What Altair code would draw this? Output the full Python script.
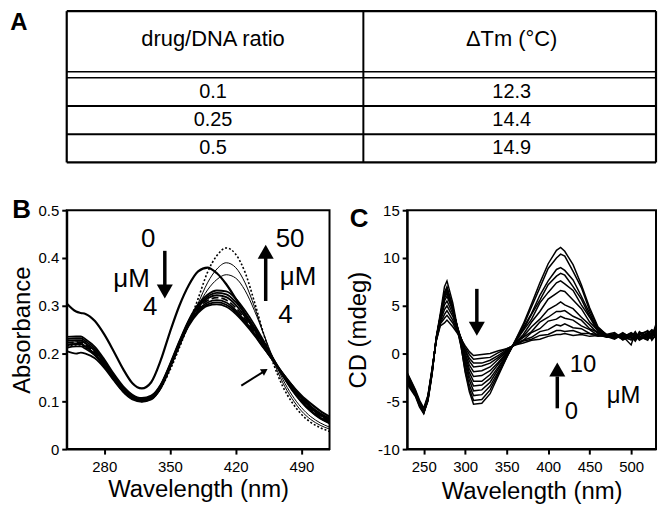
import altair as alt
import pandas as pd

FONT = "Liberation Sans"

# ---------------- Panel A: table ----------------
table_headers = ["drug/DNA ratio", "ΔTm (°C)"]
ratios = ["0.1", "0.25", "0.5"]
delta_tm = ["12.3", "14.4", "14.9"]

# ---------------- Panel B: absorbance spectra ----------------
wl_b = [240, 250, 255, 260, 270, 280, 290, 300, 310, 320, 330, 340, 350, 360, 370,
        380, 390, 400, 410, 420, 430, 440, 450, 460, 470, 480, 490, 500, 510, 520]
abs_free = [0.305, 0.288, 0.285, 0.283, 0.268, 0.24, 0.205, 0.168, 0.138, 0.127, 0.14, 0.185, 0.245, 0.30, 0.343,
            0.372, 0.38, 0.368, 0.345, 0.315, 0.283, 0.252, 0.22, 0.188, 0.158, 0.133, 0.112, 0.095, 0.08, 0.068]
abs_bundle = [
    [0.235, 0.236, 0.236, 0.23, 0.214, 0.188, 0.158, 0.132, 0.114, 0.107, 0.112, 0.135, 0.178, 0.226, 0.27,
     0.303, 0.323, 0.332, 0.33, 0.315, 0.29, 0.26, 0.226, 0.19, 0.155, 0.125, 0.1, 0.08, 0.065, 0.055],
    [0.23, 0.232, 0.232, 0.226, 0.21, 0.185, 0.155, 0.129, 0.112, 0.105, 0.11, 0.133, 0.176, 0.224, 0.268,
     0.3, 0.319, 0.327, 0.324, 0.308, 0.283, 0.254, 0.222, 0.188, 0.154, 0.124, 0.099, 0.079, 0.064, 0.054],
    [0.226, 0.228, 0.228, 0.222, 0.206, 0.181, 0.152, 0.127, 0.11, 0.104, 0.109, 0.132, 0.175, 0.223, 0.266,
     0.297, 0.315, 0.322, 0.318, 0.302, 0.277, 0.249, 0.218, 0.186, 0.155, 0.126, 0.101, 0.081, 0.066, 0.056],
    [0.217, 0.22, 0.22, 0.214, 0.199, 0.175, 0.148, 0.123, 0.107, 0.101, 0.106, 0.129, 0.172, 0.22, 0.262,
     0.291, 0.307, 0.312, 0.307, 0.291, 0.268, 0.242, 0.213, 0.185, 0.157, 0.13, 0.106, 0.086, 0.071, 0.061],
    [0.212, 0.215, 0.215, 0.21, 0.196, 0.173, 0.146, 0.122, 0.106, 0.1, 0.105, 0.128, 0.171, 0.219, 0.26,
     0.288, 0.303, 0.307, 0.302, 0.287, 0.265, 0.24, 0.212, 0.185, 0.158, 0.132, 0.108, 0.088, 0.073, 0.063],
    [0.205, 0.2, 0.202, 0.2, 0.19, 0.17, 0.144, 0.12, 0.104, 0.099, 0.104, 0.127, 0.17, 0.218, 0.258,
     0.285, 0.3, 0.303, 0.298, 0.283, 0.262, 0.238, 0.211, 0.185, 0.159, 0.134, 0.11, 0.09, 0.075, 0.065],
]
abs_dashed = [0.222, 0.224, 0.224, 0.218, 0.202, 0.178, 0.15, 0.125, 0.108, 0.102, 0.107, 0.13, 0.173, 0.221, 0.264,
              0.294, 0.311, 0.317, 0.312, 0.296, 0.272, 0.245, 0.215, 0.185, 0.156, 0.128, 0.103, 0.083, 0.068, 0.058]
abs_thin = [
    [0.222, 0.225, 0.226, 0.22, 0.204, 0.178, 0.15, 0.124, 0.108, 0.103, 0.108, 0.13, 0.17, 0.216, 0.26,
     0.3, 0.333, 0.355, 0.365, 0.358, 0.332, 0.29, 0.24, 0.19, 0.147, 0.113, 0.087, 0.068, 0.055, 0.046],
    [0.218, 0.222, 0.222, 0.216, 0.2, 0.176, 0.148, 0.122, 0.106, 0.102, 0.107, 0.128, 0.168, 0.214, 0.26,
     0.305, 0.348, 0.377, 0.39, 0.38, 0.348, 0.298, 0.24, 0.185, 0.14, 0.106, 0.08, 0.062, 0.05, 0.042],
]
abs_dotted = [0.215, 0.218, 0.218, 0.212, 0.197, 0.173, 0.146, 0.121, 0.105, 0.101, 0.106, 0.127, 0.165, 0.212, 0.262,
              0.315, 0.37, 0.405, 0.421, 0.408, 0.37, 0.308, 0.24, 0.18, 0.132, 0.098, 0.073, 0.056, 0.045, 0.037]

# ---------------- Panel C: CD spectra ----------------
wl_c = [230, 240, 245, 250, 255, 260, 265, 270, 275, 278, 285, 290, 295, 300, 305, 310, 320, 330, 340, 350,
        360, 370, 380, 390, 400, 410, 415, 420, 430, 440, 450, 460, 470, 480, 490, 500, 505, 510, 520, 525, 530]
cd_curves = [
    [-2.0, -3.8, -4.9, -5.7, -4.4, -1.6, 1.3, 2.9, 3.2, 3.5, 2.8, 2.2, 1.5, 0.8, 0.2, -0.2, -0.1, 0.0, 0.3, 0.5,
     0.9, 1.1, 1.4, 1.5, 1.8, 2.0, 2.0, 2.1, 1.9, 2.0, 1.8, 1.9, 1.8, 1.6, 1.9, 1.4, 1.8, 1.5, 1.7, 2.1, 1.6],
    [-2.2, -4.0, -5.1, -5.9, -4.5, -1.7, 1.3, 3.1, 3.7, 4.0, 3.2, 2.3, 1.6, 0.6, -0.1, -0.6, -0.5, -0.4, 0.1, 0.5,
     0.9, 1.3, 1.5, 1.9, 2.0, 2.4, 2.4, 2.3, 2.4, 2.1, 2.1, 1.8, 1.9, 1.9, 1.5, 1.8, 1.3, 2.0, 1.6, 1.9, 2.4],
    [-2.4, -4.1, -5.0, -5.8, -4.6, -1.8, 1.4, 3.2, 4.1, 4.5, 3.5, 2.5, 1.6, 0.4, -0.5, -1.0, -1.0, -0.7, -0.2, 0.4,
     0.9, 1.4, 1.7, 2.3, 2.5, 3.0, 2.9, 3.1, 2.7, 2.6, 2.1, 2.0, 1.7, 1.7, 1.8, 2.1, 1.6, 1.7, 2.2, 1.5, 1.9],
    [-2.1, -3.9, -5.2, -6.0, -4.5, -1.7, 1.4, 3.4, 4.6, 5.0, 3.9, 2.7, 1.6, 0.3, -0.8, -1.4, -1.3, -1.0, -0.4, 0.3,
     1.0, 1.4, 2.2, 2.6, 3.4, 3.6, 3.9, 3.7, 3.5, 2.9, 2.5, 1.9, 1.9, 2.0, 1.6, 1.5, 2.0, 1.8, 1.4, 2.3, 1.7],
    [-2.6, -4.2, -5.3, -6.1, -4.7, -1.9, 1.4, 3.5, 5.1, 5.5, 4.2, 2.8, 1.6, 0.0, -1.2, -1.9, -1.8, -1.4, -0.6, 0.2,
     1.0, 1.7, 2.3, 3.3, 3.8, 4.4, 4.4, 4.5, 3.9, 3.5, 2.6, 2.2, 1.8, 1.5, 2.0, 1.7, 1.4, 2.2, 1.9, 1.6, 2.6],
    [-2.3, -4.0, -5.1, -5.9, -4.6, -1.8, 1.5, 3.7, 5.5, 6.0, 4.5, 3.0, 1.5, -0.2, -1.6, -2.4, -2.3, -1.8, -0.9, 0.1,
     1.1, 1.8, 2.8, 3.6, 4.6, 5.1, 5.4, 5.1, 4.7, 3.8, 3.0, 2.1, 1.9, 1.8, 1.7, 2.2, 1.9, 1.4, 2.0, 2.4, 1.8],
    [-2.8, -4.3, -5.4, -6.2, -4.8, -2.0, 1.5, 3.8, 5.8, 6.3, 4.6, 3.0, 1.4, -0.5, -2.0, -2.9, -2.9, -2.2, -1.1, 0.0,
     1.1, 2.0, 3.3, 4.4, 5.7, 6.3, 6.6, 6.5, 5.6, 4.7, 3.3, 2.4, 1.9, 2.1, 1.4, 1.9, 2.1, 1.7, 1.5, 1.8, 2.9],
    [-2.5, -4.1, -5.2, -6.0, -4.7, -1.9, 1.5, 3.8, 6.0, 6.5, 4.7, 2.9, 1.2, -0.8, -2.4, -3.4, -3.3, -2.6, -1.4, -0.1,
     1.2, 2.4, 3.6, 5.3, 6.4, 7.4, 7.6, 7.3, 6.6, 5.1, 3.8, 2.3, 1.9, 1.7, 2.2, 1.6, 1.7, 2.1, 2.3, 1.4, 2.0],
    [-3.0, -4.4, -5.5, -6.2, -4.8, -2.0, 1.6, 3.9, 6.2, 6.7, 4.8, 2.9, 1.1, -1.1, -2.8, -3.9, -3.8, -3.0, -1.6, -0.2,
     1.2, 2.5, 4.1, 5.6, 7.2, 8.1, 8.4, 8.2, 7.0, 5.7, 3.9, 2.6, 2.0, 1.9, 1.8, 0.9, 2.2, 1.6, 1.8, 2.0, 2.5],
    [-2.7, -4.2, -5.3, -6.1, -4.9, -2.1, 1.6, 3.9, 6.3, 6.8, 4.8, 2.8, 0.9, -1.5, -3.3, -4.4, -4.3, -3.4, -1.9, -0.3,
     1.2, 2.7, 4.2, 6.1, 7.6, 8.8, 9.0, 8.7, 7.7, 6.0, 4.2, 2.5, 1.9, 1.6, 2.1, 1.8, 1.5, 2.3, 1.6, 2.2, 1.9],
    [-3.2, -4.5, -5.6, -6.3, -4.9, -2.1, 1.6, 4.0, 6.4, 7.0, 4.9, 2.7, 0.7, -1.8, -3.7, -4.9, -4.8, -3.8, -2.1, -0.4,
     1.3, 2.9, 4.9, 6.9, 8.9, 10.0, 10.4, 10.2, 8.6, 6.9, 4.5, 2.7, 2.0, 2.2, 1.6, 2.0, 1.8, 1.9, 2.4, 1.7, 3.1],
    [-2.9, -4.3, -5.4, -6.2, -5.0, -2.2, 1.7, 4.2, 7.0, 7.6, 5.3, 3.0, 0.8, -2.0, -4.0, -5.3, -5.2, -4.2, -2.3, -0.4,
     1.3, 3.1, 5.2, 7.4, 9.4, 10.8, 11.1, 10.7, 9.3, 7.2, 4.8, 2.8, 2.0, 1.8, 1.9, 1.7, 2.3, 1.5, 2.1, 2.5, 2.2],
]

# ---------------- build long tables ----------------
def long_df(wls, curves, prefix):
    rows = []
    for i, c in enumerate(curves):
        assert len(c) == len(wls), (prefix, i, len(c))
        for w, v in zip(wls, c):
            rows.append({"wl": w, "val": v, "curve": f"{prefix}{i}"})
    return pd.DataFrame(rows)

df_free = long_df(wl_b, [abs_free], "free")
df_bundle = long_df(wl_b, abs_bundle, "b")
df_dashed = long_df(wl_b, [abs_dashed], "dash")
df_thin = long_df(wl_b, abs_thin, "t")
df_dotted = long_df(wl_b, [abs_dotted], "dot")
df_cd = long_df(wl_c, cd_curves, "c")

# ---------------- Table chart ----------------
TW, TH = 592, 152
sx = alt.Scale(domain=[0, TW], nice=False, zero=False)
sy = alt.Scale(domain=[0, TH], nice=False, zero=False, reverse=True)
head_h = 61
row_h = (TH - (head_h + 6)) / 3
col_div = 298
hlines = pd.DataFrame({"x0": [0] * 6, "x1": [TW] * 6,
                       "y": [0, head_h, head_h + 6, head_h + 6 + row_h, head_h + 6 + 2 * row_h, TH],
                       "w": [2.2, 1.5, 1.5, 2, 2, 2.2]})
vlines = pd.DataFrame({"x": [0, col_div, TW], "y0": [0, 0, 0], "y1": [TH, TH, TH], "w": [2.2, 2, 2.2]})
col_centers = [147, 447]
header_df = pd.DataFrame({"x": col_centers, "y": [28, 28], "t": table_headers})
cells = []
for k, (r, d) in enumerate(zip(ratios, delta_tm)):
    yc = head_h + 6 + row_h * (k + 0.5)
    cells.append({"x": col_centers[0], "y": yc, "t": r})
    cells.append({"x": col_centers[1], "y": yc, "t": d})
cells_df = pd.DataFrame(cells)
labelA = pd.DataFrame({"x": [-48], "y": [0], "t": ["A"]})

t_h = alt.Chart(hlines).mark_rule(color="black").encode(
    x=alt.X("x0:Q", scale=sx, axis=None), x2="x1:Q",
    y=alt.Y("y:Q", scale=sy, axis=None), strokeWidth=alt.StrokeWidth("w:Q", scale=None))
t_v = alt.Chart(vlines).mark_rule(color="black").encode(
    x=alt.X("x:Q", scale=sx, axis=None),
    y=alt.Y("y0:Q", scale=sy, axis=None), y2="y1:Q", strokeWidth=alt.StrokeWidth("w:Q", scale=None))
t_head = alt.Chart(header_df).mark_text(font=FONT, fontSize=22, color="black", baseline="middle").encode(
    x=alt.X("x:Q", scale=sx, axis=None), y=alt.Y("y:Q", scale=sy, axis=None), text="t:N")
t_cells = alt.Chart(cells_df).mark_text(font=FONT, fontSize=20, color="black", baseline="middle").encode(
    x=alt.X("x:Q", scale=sx, axis=None), y=alt.Y("y:Q", scale=sy, axis=None), text="t:N")
t_A = alt.Chart(labelA).mark_text(font=FONT, fontSize=24, fontWeight="bold", color="black", baseline="top").encode(
    x=alt.X("x:Q", scale=sx, axis=None), y=alt.Y("y:Q", scale=sy, axis=None), text="t:N")
table = alt.layer(t_h, t_v, t_head, t_cells, t_A).properties(
    width=TW, height=TH, view=alt.ViewBackground(stroke=None))

# ---------------- Panel B chart ----------------
XB = alt.X("wl:Q", scale=alt.Scale(domain=[240, 520], nice=False, zero=False),
           axis=alt.Axis(values=[280, 350, 420, 490], title="Wavelength (nm)", labelPadding=5, titlePadding=4))
YB = alt.Y("val:Q", scale=alt.Scale(domain=[0, 0.5], nice=False, zero=False),
           axis=alt.Axis(values=[0, 0.1, 0.2, 0.3, 0.4, 0.5], format=".1~f", title="Absorbance",
                         labelPadding=3, titlePadding=4))

def bline(df, width, dash=None):
    kw = dict(color="black", strokeWidth=width, interpolate="monotone", clip=True)
    if dash:
        kw["strokeDash"] = dash
    return alt.Chart(df).mark_line(**kw).encode(x=XB, y=YB, detail="curve:N")

b_text = pd.DataFrame({"wl": [326.7, 309, 329, 478, 486.5, 473],
                       "val": [0.44, 0.357, 0.298, 0.44, 0.36, 0.28],
                       "t": ["0", "μM", "4", "50", "μM", "4"]})
b_shaft = pd.DataFrame({"wl": [344.5, 452], "val": [0.415, 0.31], "val2": [0.34, 0.40]})
b_head = pd.DataFrame({"wl": [344.5, 452], "val": [0.33, 0.413], "shape": ["triangle-down", "triangle-up"]})
b_small = pd.DataFrame({"wl": [426], "wl2": [449], "val": [0.133], "val2": [0.161]})
b_small_head = pd.DataFrame({"wl": [451], "val": [0.164]})
b_label = pd.DataFrame({"wl": [192], "val": [0.5], "t": ["B"]})

B = alt.layer(
    bline(df_bundle, 1.8),
    bline(df_dashed, 1.8, [7, 3]),
    bline(df_thin, 1.0),
    bline(df_dotted, 1.6, [2, 2]),
    bline(df_free, 2.2),
    alt.Chart(b_text).mark_text(font=FONT, fontSize=26, color="black", baseline="middle").encode(x=XB, y=YB, text="t:N"),
    alt.Chart(b_shaft).mark_rule(color="black", strokeWidth=3.5).encode(x=XB, y=YB, y2="val2:Q"),
    alt.Chart(b_head).mark_point(filled=True, color="black", opacity=1, size=260, strokeWidth=0).encode(
        x=XB, y=YB, shape=alt.Shape("shape:N", scale=None)),
    alt.Chart(b_small).mark_rule(color="black", strokeWidth=2).encode(x=XB, x2="wl2:Q", y=YB, y2="val2:Q"),
    alt.Chart(b_small_head).mark_point(filled=True, color="black", opacity=1, size=60, strokeWidth=0,
                                       shape="triangle-up", angle=58).encode(x=XB, y=YB),
    alt.Chart(b_label).mark_text(font=FONT, fontSize=26, fontWeight="bold", color="black", baseline="middle").encode(
        x=XB, y=YB, text="t:N"),
).properties(width=264, height=240, view=alt.ViewBackground(stroke="black", strokeWidth=2))

# ---------------- Panel C chart ----------------
XC = alt.X("wl:Q", scale=alt.Scale(domain=[230, 530], nice=False, zero=False),
           axis=alt.Axis(values=[250, 300, 350, 400, 450, 500], title="Wavelength (nm)", labelPadding=5, titlePadding=6))
YC = alt.Y("val:Q", scale=alt.Scale(domain=[-10, 15], nice=False, zero=False),
           axis=alt.Axis(values=[-10, -5, 0, 5, 10, 15], labelExpr="datum.value + ''", title="CD (mdeg)",
                         labelPadding=3, titlePadding=7))

c_text = pd.DataFrame({"wl": [442, 428, 491], "val": [-1.2, -6.15, -4.48], "t": ["10", "0", "μM"]})
c_shaft = pd.DataFrame({"wl": [314, 411], "val": [6.77, -5.73], "val2": [3.2, -2.4]})
c_head = pd.DataFrame({"wl": [314, 411], "val": [2.6, -1.67], "shape": ["triangle-down", "triangle-up"]})
c_label = pd.DataFrame({"wl": [172], "val": [14.06], "t": ["C"]})

C = alt.layer(
    alt.Chart(df_cd).mark_line(color="black", strokeWidth=1.5, clip=True).encode(x=XC, y=YC, detail="curve:N"),
    alt.Chart(c_text).mark_text(font=FONT, fontSize=24, color="black", baseline="middle").encode(x=XC, y=YC, text="t:N"),
    alt.Chart(c_shaft).mark_rule(color="black", strokeWidth=3.5).encode(x=XC, y=YC, y2="val2:Q"),
    alt.Chart(c_head).mark_point(filled=True, color="black", opacity=1, size=260, strokeWidth=0).encode(
        x=XC, y=YC, shape=alt.Shape("shape:N", scale=None)),
    alt.Chart(c_label).mark_text(font=FONT, fontSize=26, fontWeight="bold", color="black", baseline="middle").encode(
        x=XC, y=YC, text="t:N"),
).properties(width=250, height=240, view=alt.ViewBackground(stroke="black", strokeWidth=2))

chart = alt.vconcat(
    table,
    alt.hconcat(B, C, spacing=78, bounds="flush"),
    spacing=48, bounds="flush",
).properties(padding={"left": 1, "top": 0, "right": 0, "bottom": 0}).configure(background="white").configure_axis(
    domainColor="black", domainWidth=2, tickColor="black", tickWidth=2, tickSize=5,
    labelFont=FONT, labelFontSize=15, labelColor="black",
    titleFont=FONT, titleFontSize=24, titleFontWeight="normal", titleColor="black", grid=False,
)

chart.save("out.html", embed_options={"renderer": "svg", "actions": False})
